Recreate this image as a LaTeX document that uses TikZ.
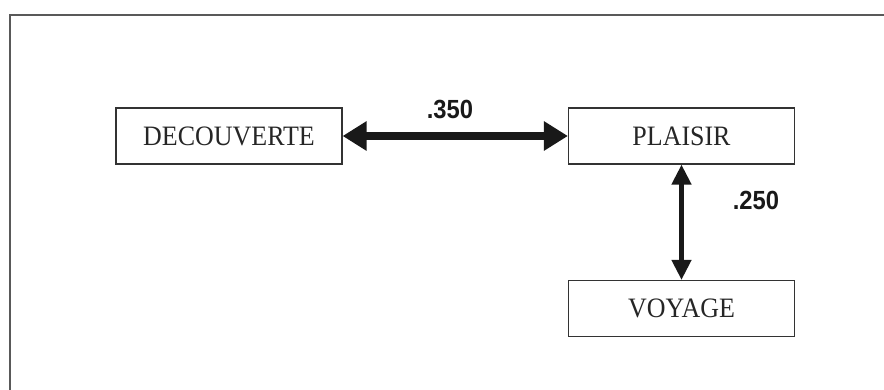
\documentclass[tikz,border=0pt]{standalone}
\usepackage{fontspec}
\setmainfont{Liberation Serif}
\newfontfamily\numfont{Liberation Sans}
\usetikzlibrary{arrows.meta}
\newcommand{\lowtext}[1]{\raisebox{-2pt}{\scalebox{0.98}[1.06]{#1}}}
\begin{document}
\begin{tikzpicture}[x=1pt,y=-1pt,
  boxnode/.style={draw=black!80, line width=1.2pt, minimum width=226pt, minimum height=56pt, inner sep=0pt, font=\fontsize{26.5}{30}\selectfont, text=black!85},
  numlabel/.style={font=\numfont\bfseries\fontsize{25}{28}\selectfont, text=black!90, inner sep=0pt},
  bigarrow/.style={line width=7.5pt, {Triangle[length=24pt,width=28pt]}-{Triangle[length=24pt,width=28pt]}, black!90},
  smallarrow/.style={line width=4.5pt, {Triangle[length=20pt,width=19pt]}-{Triangle[length=20pt,width=19pt]}, black!90}]
\useasboundingbox (0,0) rectangle (884,390);
\draw[black!65, line width=1.5pt] (10,390) -- (10,15) -- (884,15);
\node[boxnode] (dec) at (229,136) {\lowtext{DECOUVERTE}};
\node[boxnode] (pla) at (681.5,136) {\lowtext{PLAISIR}};
\node[boxnode] (voy) at (681.5,308.5) {\lowtext{VOYAGE}};
\draw[bigarrow] (dec.east) -- (pla.west);
\draw[smallarrow] (pla.south) -- (voy.north);
\node[numlabel] (l1) at (450,109) {\scalebox{0.95}[1.05]{.350}};
\node[numlabel] (l2) at (756,200) {\scalebox{0.95}[1.05]{.250}};
\end{tikzpicture}
\end{document}
